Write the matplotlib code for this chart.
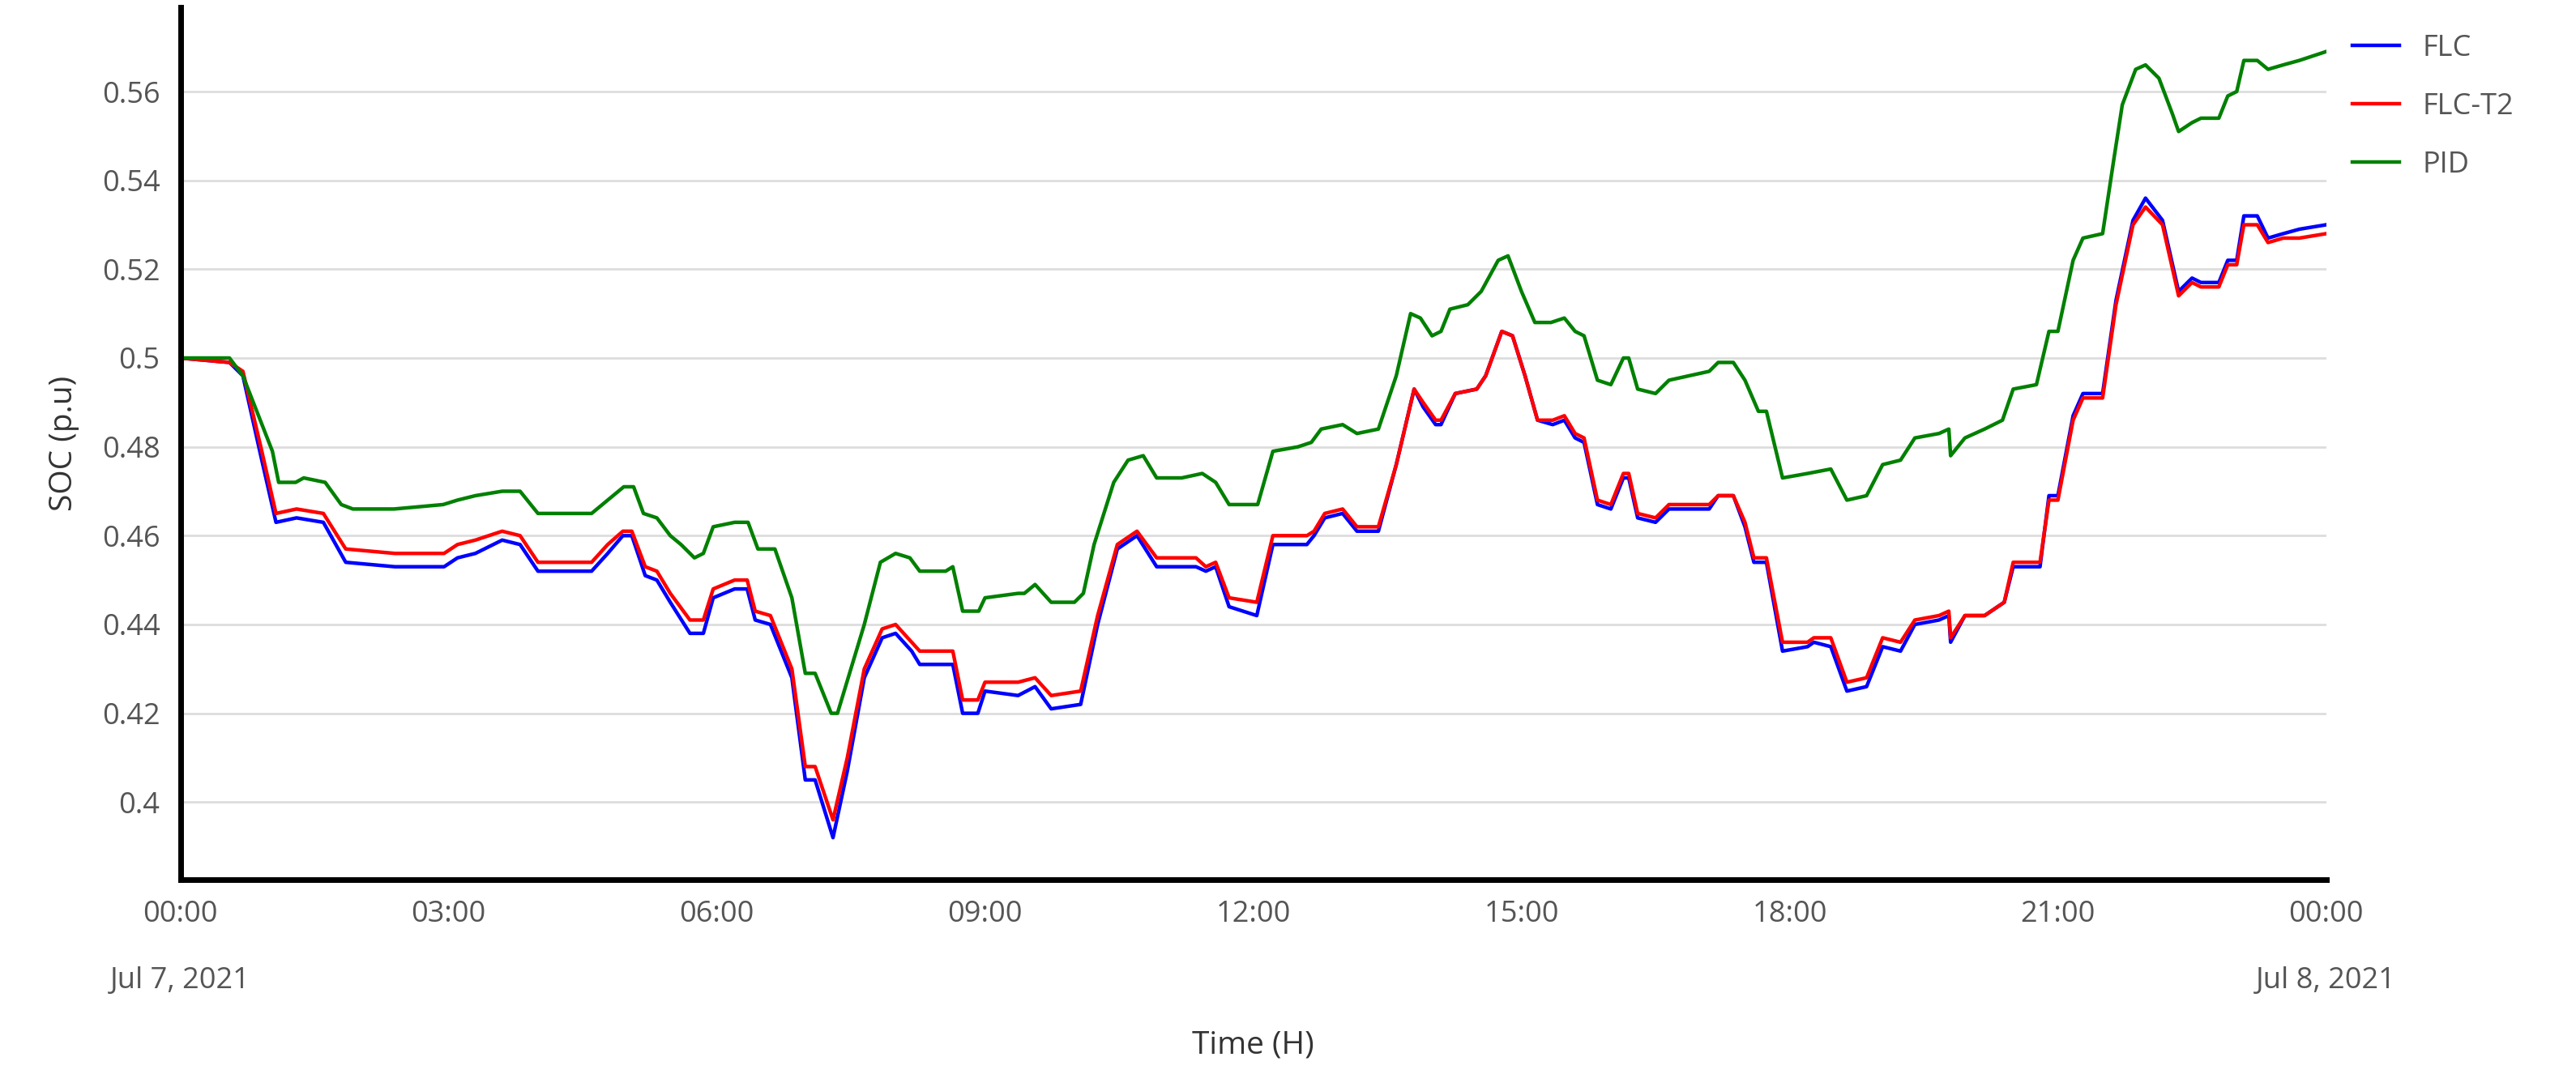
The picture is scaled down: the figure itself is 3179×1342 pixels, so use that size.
import matplotlib
matplotlib.use("Agg")
import matplotlib.pyplot as plt

plt.rcParams['font.family'] = ['Open Sans', 'DejaVu Sans']

hours_t2 = [0,0.55,0.7,0.9,1.07,1.3,1.6,1.85,2.4,2.95,3.1,3.3,3.6,3.8,4.0,4.6,4.78,4.95,5.05,5.2,5.33,5.48,5.7,5.85,5.96,6.2,6.34,6.43,6.6,6.84,6.99,7.1,7.3,7.46,7.65,7.85,8.0,8.18,8.27,8.64,8.75,8.92,9.0,9.37,9.56,9.74,10.07,10.26,10.48,10.7,10.92,11.36,11.47,11.58,11.73,12.04,12.22,12.6,12.68,12.8,13.0,13.16,13.4,13.6,13.8,13.9,14.04,14.1,14.26,14.5,14.6,14.78,14.9,15.04,15.18,15.35,15.48,15.6,15.7,15.85,16.0,16.14,16.2,16.3,16.5,16.65,17.1,17.2,17.37,17.5,17.6,17.74,17.92,18.2,18.27,18.46,18.64,18.86,19.04,19.24,19.4,19.67,19.78,19.8,19.96,20.18,20.4,20.5,20.8,20.9,21.0,21.17,21.28,21.5,21.65,21.84,21.98,22.17,22.35,22.5,22.6,22.8,22.9,23.0,23.08,23.23,23.35,23.52,23.7,24.0]
flc_t2 = [0.500,0.499,0.497,0.480,0.465,0.466,0.465,0.457,0.456,0.456,0.458,0.459,0.461,0.460,0.454,0.454,0.458,0.461,0.461,0.453,0.452,0.447,0.441,0.441,0.448,0.450,0.450,0.443,0.442,0.430,0.408,0.408,0.396,0.410,0.430,0.439,0.440,0.436,0.434,0.434,0.423,0.423,0.427,0.427,0.428,0.424,0.425,0.442,0.458,0.461,0.455,0.455,0.453,0.454,0.446,0.445,0.460,0.460,0.461,0.465,0.466,0.462,0.462,0.476,0.493,0.490,0.486,0.486,0.492,0.493,0.496,0.506,0.505,0.496,0.486,0.486,0.487,0.483,0.482,0.468,0.467,0.474,0.474,0.465,0.464,0.467,0.467,0.469,0.469,0.463,0.455,0.455,0.436,0.436,0.437,0.437,0.427,0.428,0.437,0.436,0.441,0.442,0.443,0.437,0.442,0.442,0.445,0.454,0.454,0.468,0.468,0.486,0.491,0.491,0.512,0.530,0.534,0.530,0.514,0.517,0.516,0.516,0.521,0.521,0.530,0.530,0.526,0.527,0.527,0.528]
flc = [0.500,0.499,0.496,0.478,0.463,0.464,0.463,0.454,0.453,0.453,0.455,0.456,0.459,0.458,0.452,0.452,0.456,0.460,0.460,0.451,0.450,0.445,0.438,0.438,0.446,0.448,0.448,0.441,0.440,0.428,0.405,0.405,0.392,0.407,0.428,0.437,0.438,0.434,0.431,0.431,0.420,0.420,0.425,0.424,0.426,0.421,0.422,0.440,0.457,0.460,0.453,0.453,0.452,0.453,0.444,0.442,0.458,0.458,0.460,0.464,0.465,0.461,0.461,0.476,0.493,0.489,0.485,0.485,0.492,0.493,0.496,0.506,0.505,0.496,0.486,0.485,0.486,0.482,0.481,0.467,0.466,0.473,0.473,0.464,0.463,0.466,0.466,0.469,0.469,0.462,0.454,0.454,0.434,0.435,0.436,0.435,0.425,0.426,0.435,0.434,0.440,0.441,0.442,0.436,0.442,0.442,0.445,0.453,0.453,0.469,0.469,0.487,0.492,0.492,0.513,0.531,0.536,0.531,0.515,0.518,0.517,0.517,0.522,0.522,0.532,0.532,0.527,0.528,0.529,0.530]

hours_pid = [0,0.55,0.7,1.03,1.1,1.29,1.38,1.62,1.8,1.93,2.39,2.94,3.1,3.3,3.6,3.8,4.0,4.6,4.78,4.96,5.07,5.18,5.33,5.48,5.6,5.75,5.85,5.96,6.2,6.35,6.46,6.65,6.84,6.99,7.1,7.28,7.35,7.5,7.65,7.83,8.0,8.16,8.27,8.56,8.64,8.75,8.93,9.0,9.37,9.44,9.56,9.74,10.0,10.1,10.22,10.44,10.6,10.77,10.92,11.2,11.43,11.58,11.73,12.05,12.22,12.5,12.65,12.76,13.0,13.16,13.4,13.6,13.76,13.87,14.0,14.1,14.2,14.4,14.55,14.74,14.85,15.0,15.15,15.33,15.48,15.6,15.7,15.85,16.0,16.14,16.2,16.3,16.5,16.65,17.1,17.2,17.37,17.5,17.65,17.74,17.92,18.2,18.46,18.64,18.86,19.04,19.24,19.4,19.67,19.78,19.8,19.96,20.18,20.38,20.5,20.76,20.9,21.0,21.17,21.28,21.5,21.62,21.72,21.87,21.98,22.13,22.28,22.35,22.5,22.6,22.8,22.9,23.0,23.08,23.23,23.35,23.52,23.7,24.0]
pid = [0.500,0.500,0.496,0.479,0.472,0.472,0.473,0.472,0.467,0.466,0.466,0.467,0.468,0.469,0.470,0.470,0.465,0.465,0.468,0.471,0.471,0.465,0.464,0.460,0.458,0.455,0.456,0.462,0.463,0.463,0.457,0.457,0.446,0.429,0.429,0.420,0.420,0.430,0.440,0.454,0.456,0.455,0.452,0.452,0.453,0.443,0.443,0.446,0.447,0.447,0.449,0.445,0.445,0.447,0.458,0.472,0.477,0.478,0.473,0.473,0.474,0.472,0.467,0.467,0.479,0.480,0.481,0.484,0.485,0.483,0.484,0.496,0.510,0.509,0.505,0.506,0.511,0.512,0.515,0.522,0.523,0.515,0.508,0.508,0.509,0.506,0.505,0.495,0.494,0.500,0.500,0.493,0.492,0.495,0.497,0.499,0.499,0.495,0.488,0.488,0.473,0.474,0.475,0.468,0.469,0.476,0.477,0.482,0.483,0.484,0.478,0.482,0.484,0.486,0.493,0.494,0.506,0.506,0.522,0.527,0.528,0.544,0.557,0.565,0.566,0.563,0.555,0.551,0.553,0.554,0.554,0.559,0.560,0.567,0.567,0.565,0.566,0.567,0.569]

xtick_pos = [0,3,6,9,12,15,18,21,24]
xtick_labels = ["00:00\n\nJul 7, 2021","03:00","06:00","09:00","12:00","15:00","18:00","21:00","00:00\n\nJul 8, 2021"]
ytick_pos = [0.40,0.42,0.44,0.46,0.48,0.50,0.52,0.54,0.56]
ytick_labels = ["0.4","0.42","0.44","0.46","0.48","0.5","0.52","0.54","0.56"]

fig = plt.figure(figsize=(31.79,13.42), dpi=100)
ax = fig.add_axes([0.070,0.191,0.833,0.802])
lw = 3.2
ax.plot(hours_t2, flc, color='#0000ff', lw=lw, label='FLC')
ax.plot(hours_t2, flc_t2, color='#ff0000', lw=lw, label='FLC-T2')
ax.plot(hours_pid, pid, color='#008000', lw=lw, label='PID')
ax.set_xlim(0,24)
ax.set_ylim(0.3826,0.5789)
ax.set_xticks(xtick_pos)
ax.set_xticklabels(xtick_labels, fontsize=26, color='#555555')
ax.set_yticks(ytick_pos)
ax.set_yticklabels(ytick_labels, fontsize=26, color='#555555')
ax.tick_params(length=0, pad=18)
ax.grid(axis='y', color='#dddddd', lw=2)
ax.set_axisbelow(True)
for s in ['top','right']:
    ax.spines[s].set_visible(False)
for s in ['left','bottom']:
    ax.spines[s].set_linewidth(5)
    ax.spines[s].set_color('black')
ax.set_xlabel('Time (H)', fontsize=28, color='#333333', labelpad=30)
ax.set_ylabel('SOC (p.u)', fontsize=28, color='#333333', labelpad=20)
ax.legend(loc='upper left', bbox_to_anchor=(1.0,1.0), frameon=False, fontsize=26,
          handlelength=1.6, labelspacing=1.0, labelcolor='#555555')
fig.savefig('out.png', dpi=100)
